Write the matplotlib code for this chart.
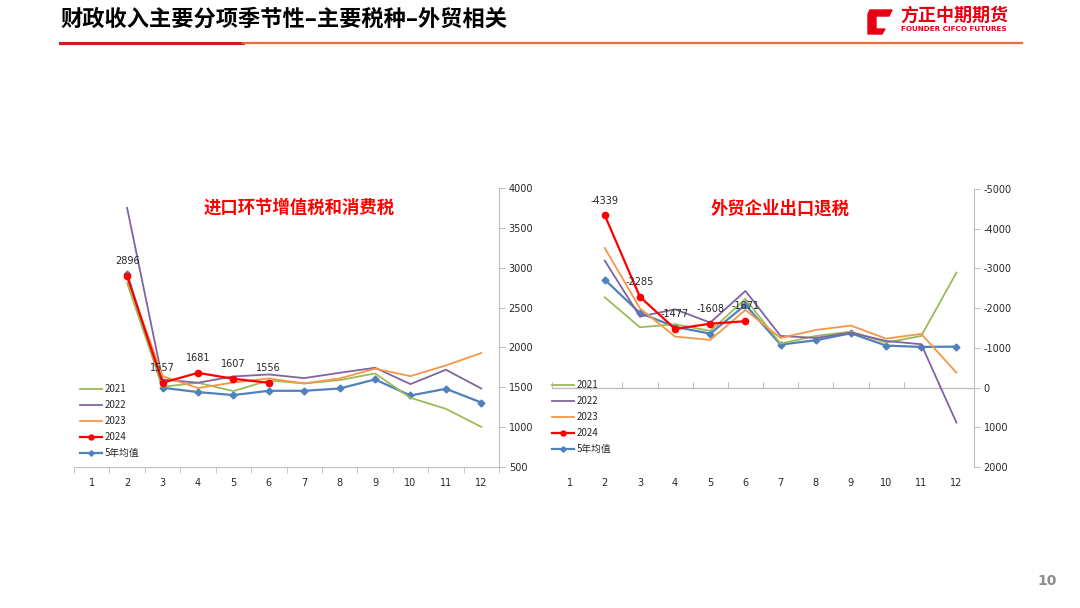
import numpy as np
import matplotlib.pyplot as plt
from matplotlib.patches import Polygon

plt.rcParams['font.family'] = ['Noto Sans CJK SC', 'DejaVu Sans']
plt.rcParams['axes.unicode_minus'] = False

months = [1, 2, 3, 4, 5, 6, 7, 8, 9, 10, 11, 12]
series_names = ['2021', '2022', '2023', '2024', '5年均值']

# 进口环节增值税和消费税 (months 2-12)
imp_2021 = [2806, 1506, 1557, 1452, 1586, 1548, 1590, 1674, 1368, 1230, 1003]
imp_2022 = [3749, 1598, 1557, 1636, 1661, 1615, 1682, 1745, 1540, 1720, 1485]
imp_2023 = [2870, 1640, 1490, 1560, 1611, 1548, 1611, 1733, 1640, 1774, 1930]
imp_2024 = [2896, 1557, 1681, 1607, 1556]
imp_avg = [2923, 1494, 1440, 1402, 1456, 1456, 1485, 1598, 1397, 1481, 1309]

# 外贸企业出口退税 (months 2-12)
exp_2021 = [-2273, -1518, -1594, -1426, -2232, -1107, -1300, -1409, -1133, -1300, -2894]
exp_2022 = [-3196, -1787, -1971, -1636, -2433, -1300, -1250, -1384, -1174, -1091, 881]
exp_2023 = [-3515, -1997, -1284, -1200, -1955, -1250, -1451, -1560, -1233, -1351, -377]
exp_2024 = [-4339, -2285, -1477, -1608, -1671]
exp_avg = [-2718, -1879, -1527, -1359, -2081, -1082, -1191, -1367, -1057, -1023, -1032]

colors = ['#9BBB59', '#8064A2', '#F79646', '#FF0000', '#4F81BD']
grey = '#BFBFBF'

fig = plt.figure(figsize=(10.8, 6.08), dpi=100)

# header
fig.text(60 / 1080, 1 - 19 / 608, '财政收入主要分项季节性–主要税种–外贸相关',
         fontsize=16, fontweight='bold', color='black', va='center', ha='left')
fig.add_artist(plt.Line2D([60 / 1080, 243 / 1080], [1 - 42.5 / 608] * 2, color='#D7191C', lw=2.2))
fig.add_artist(plt.Line2D([243 / 1080, 1022 / 1080], [1 - 42.5 / 608] * 2, color='#EE6A37', lw=1.6))

# logo
fig.patches.append(Polygon(np.array([[870, 608 - 10], [892, 608 - 10], [889, 608 - 16], [876, 608 - 16],
                                     [876, 608 - 29], [885, 608 - 29], [882, 608 - 34], [868, 608 - 34],
                                     [868, 608 - 14]]) / [1080, 608],
                           closed=True, color='#E60012', transform=fig.transFigure))
fig.text(954 / 1080, 1 - 15 / 608, '方正中期期货', fontsize=13, fontweight='bold',
         color='#E60012', ha='center', va='center')
fig.text(954 / 1080, 1 - 29 / 608, 'FOUNDER CIFCO FUTURES', fontsize=5.2, fontweight='bold',
         color='#E60012', ha='center', va='center', family='DejaVu Sans')

fig.text(1047 / 1080, 1 - 581 / 608, '10', fontsize=10, fontweight='bold', color='#8C8C8C',
         ha='center', va='center', family='DejaVu Sans')


def draw(ax, data, labels_data, ylim, yticks, title, title_x, leg_pos):
    x_full = months[1:]
    x_2024 = months[1:1 + len(labels_data)]
    lw = 1.3
    ax.plot(x_full, data[0], color=colors[0], lw=lw, label=series_names[0])
    ax.plot(x_full, data[1], color=colors[1], lw=lw, label=series_names[1])
    ax.plot(x_full, data[2], color=colors[2], lw=lw, label=series_names[2])
    ax.plot(x_2024, labels_data, color=colors[3], lw=1.6, marker='o', ms=4.5, label=series_names[3])
    ax.plot(x_full, data[3], color=colors[4], lw=1.6, marker='D', ms=3.5, label=series_names[4], zorder=1.9)

    for xi, v in zip(x_2024, labels_data):
        ax.annotate(f'{v}', (xi, v), xytext=(0, 7), textcoords='offset points',
                    ha='center', va='bottom', fontsize=7, color='#262626', family='DejaVu Sans')

    ax.set_xlim(0.5, 12.5)
    ax.set_ylim(*ylim)
    ax.set_yticks(yticks)
    ax.yaxis.tick_right()
    ax.tick_params(axis='y', direction='out', length=4, color=grey, labelsize=7, pad=3,
                   labelcolor='#262626')
    for lab in ax.get_yticklabels():
        lab.set_family('DejaVu Sans')

    ax.set_xticks(months)
    ax.set_xticks(np.arange(0.5, 13, 1), minor=True)
    ax.tick_params(axis='x', which='major', length=0, labelsize=7, pad=8, labelcolor='#262626')
    for lab in ax.get_xticklabels():
        lab.set_family('DejaVu Sans')

    for s in ['top', 'left']:
        ax.spines[s].set_visible(False)
    ax.spines['right'].set_color(grey)
    ax.spines['bottom'].set_color(grey)

    ax.text(title_x, 0.93, title, transform=ax.transAxes, ha='center', va='center',
            fontsize=12.5, fontweight='bold', color='#FF0000')

    leg = ax.legend(loc='upper left', bbox_to_anchor=leg_pos, bbox_transform=fig.transFigure,
                    frameon=False, fontsize=7, handlelength=2.3, handletextpad=0.25,
                    labelspacing=0.62, borderpad=0, borderaxespad=0, markerscale=0.8)
    for t in leg.get_texts():
        t.set_color('#262626')


ax1 = fig.add_axes([74 / 1080, 1 - 467 / 608, 425 / 1080, 279 / 608])
draw(ax1, [imp_2021, imp_2022, imp_2023, imp_avg], imp_2024, (500, 4000),
     np.arange(500, 4001, 500), '进口环节增值税和消费税', 0.53,
     (80 / 1080, 1 - 384 / 608))
ax1.tick_params(axis='x', which='minor', direction='out', length=4, color=grey)

ax2 = fig.add_axes([552 / 1080, 1 - 467 / 608, 422 / 1080, 278 / 608])
draw(ax2, [exp_2021, exp_2022, exp_2023, exp_avg], exp_2024, (2000, -5000),
     np.arange(-5000, 2001, 1000), '外贸企业出口退税', 0.54,
     (552 / 1080, 1 - 380 / 608))
ax2.spines['bottom'].set_visible(False)
ax2.tick_params(axis='x', which='minor', length=0)
ax2.axhline(0, color=grey, lw=1, zorder=0.5)
zero_frac = (2000 - 0) / 7000
sec = ax2.secondary_xaxis(zero_frac)
sec.set_xticks(np.arange(0.5, 12, 1))
sec.set_xticklabels([])
sec.tick_params(direction='in', length=4, color=grey)
sec.spines['bottom'].set_visible(False)
sec.spines['top'].set_visible(False)

fig.savefig('out.png', dpi=100)
